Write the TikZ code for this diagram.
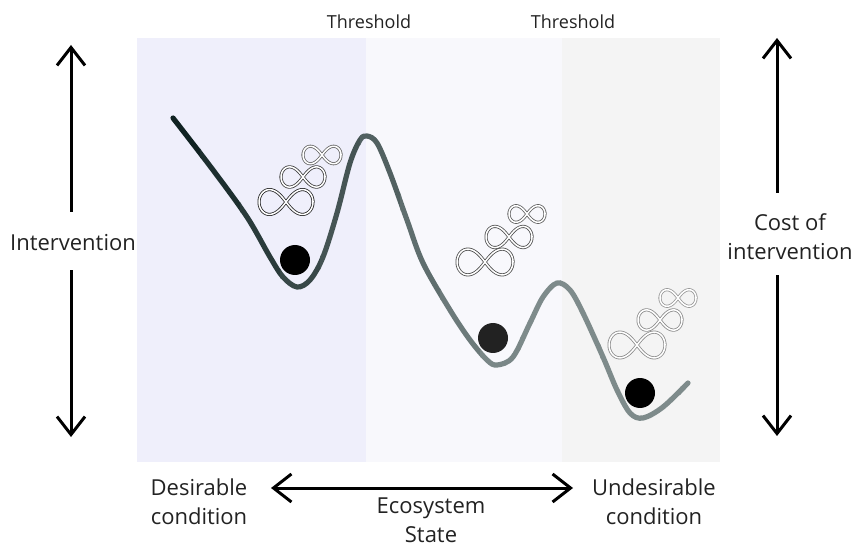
\documentclass[tikz,border=0pt]{standalone}
\usepackage{fontspec}
\setmainfont{Open Sans}
\usetikzlibrary{arrows.meta}
\definecolor{bgA}{HTML}{EFEFFB}
\definecolor{bgB}{HTML}{F8F8FC}
\definecolor{bgC}{HTML}{F4F4F4}
\definecolor{valL}{HTML}{102222}
\definecolor{valR}{HTML}{7E8B8B}
\definecolor{ink}{HTML}{222222}
\tikzset{lbl/.style={text=ink, font=\fontsize{11}{14.5}\selectfont, align=center},
  thr/.style={text=ink, font=\fontsize{9}{11}\selectfont},
  arr/.style={draw=black, line width=1.5pt, -{Straight Barb[length=9pt, width=14pt, line width=1.5pt]}},
  valley/.style={line width=2.6pt, line cap=round, line join=round},
  infty/.pic={
    \draw[line width=0.4pt, double=white, double distance=0.75pt]
      plot[domain=0:360, samples=90, smooth cycle, variable=\t]
      ({cos(\t)/(1+sin(\t)^2)}, {1.3*sin(\t)*cos(\t)/(1+sin(\t)^2)});
  }}

\begin{document}
\begin{tikzpicture}[x=0.5pt, y=-0.5pt]
\useasboundingbox (0,0) rectangle (857,545);

\fill[bgA] (137,38) rectangle (366,462);
\fill[bgB] (366,38) rectangle (562,462);
\fill[bgC] (562,38) rectangle (720,462);

\node[thr] (thrA) at (369,22) {Threshold};
\node[thr] (thrB) at (573,22) {Threshold};

% valley line, dark on the left and grey on the right
\foreach \s in {0,...,13} {
  \pgfmathtruncatemacro\mixp{min(100,12*\s)}
  \begin{scope}
  \clip (160+40*\s,30) rectangle (201+40*\s,470);
  \draw[valley, color=valR!\mixp!valL] plot[smooth, tension=0.55] coordinates {
    (173,118) (213,170) (247,217) (270,257) (283,277) (297,287) (310,280)
    (323,257) (337,213) (350,163) (360,140) (367,136) (377,143) (390,173)
    (407,220) (423,263) (450,310) (470,340) (487,360) (497,365) (513,357)
    (530,323) (543,297) (557,283) (570,290) (583,313) (603,357) (617,390)
    (630,413) (643,418) (663,407) (688,383)};
  \end{scope}
}

\fill[black] (295,260) circle[radius=15];
\fill[ink] (493,338) circle[radius=15];
\fill[black] (640,393) circle[radius=15];

\pic[color=black!85, scale=27] at (286,202) {infty};
\pic[color=black!75, scale=22] at (303,177) {infty};
\pic[color=black!60, scale=19] at (322,155) {infty};

\pic[color=black!70, scale=28] at (485,262) {infty};
\pic[color=black!68, scale=23] at (509,237) {infty};
\pic[color=black!62, scale=18] at (527,214) {infty};

\pic[color=black!45, scale=28] at (637,345) {infty};
\pic[color=black!45, scale=22] at (660,320) {infty};
\pic[color=black!40, scale=18] at (678,298) {infty};

\node[lbl] (intv) at (73,243) {Intervention};
\coordinate (intvTop) at (71,45);
\coordinate (intvBot) at (71,437);
\draw[arr, shorten <=8pt] (intv.north -| intvTop) -- (intvTop);
\draw[arr, shorten <=6pt] (intv.south -| intvBot) -- (intvBot);

\node[lbl] (cost) at (790,237) {Cost of\\intervention};
\coordinate (costTop) at (777,38);
\coordinate (costBot) at (777,436);
\draw[arr, shorten <=7pt] (cost.north -| costTop) -- (costTop);
\draw[arr, shorten <=4pt] (cost.south -| costBot) -- (costBot);

\node[lbl] (good) at (199,502) {Desirable\\condition};
\node[lbl] (bad) at (654,502) {Undesirable\\condition};
\node[lbl] (eco) at (431,520) {Ecosystem\\State};
\coordinate (ecoL) at (271,488);
\coordinate (ecoR) at (573,488);
\draw[arr, {Straight Barb[length=9pt, width=14pt, line width=1.5pt]}-{Straight Barb[length=9pt, width=14pt, line width=1.5pt]}] (ecoL) -- (ecoR);
\end{tikzpicture}
\end{document}
